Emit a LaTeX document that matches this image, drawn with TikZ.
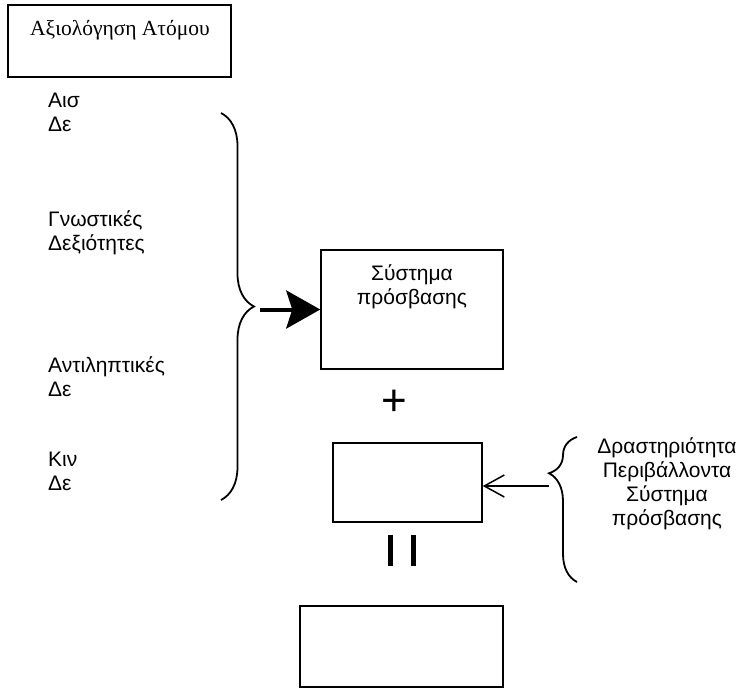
\documentclass[tikz,border=0pt]{standalone}
\usepackage{fontspec}
\setmainfont{Liberation Sans}
\newfontfamily\serifgr{Liberation Serif}
\usetikzlibrary{arrows.meta,decorations.pathreplacing}

\tikzstyle{every node}=[font=\fontsize{21}{24}\selectfont]
\tikzstyle{box}=[draw, line width=1.5pt, inner sep=0pt]
\tikzstyle{leftlabel}=[anchor=west, align=left, inner sep=0pt]
\tikzstyle{bigbrace}=[decorate, decoration={brace, amplitude=33pt}, line width=1.8pt]
\tikzstyle{smallbrace}=[decorate, decoration={brace, amplitude=28pt, aspect=0.75}, line width=1.8pt]
\tikzstyle{bigarrow}=[line width=4pt, -{Stealth[length=34pt, width=38pt, inset=6pt]}]
\tikzstyle{thinarrow}=[line width=1.5pt, -{Straight Barb[length=20pt, width=22pt]}]

\begin{document}
\begin{tikzpicture}[x=1pt, y=-1pt]
            \useasboundingbox (0,0) rectangle (738,688);

            % top box
            \node[box, minimum width=223pt, minimum height=72pt] (eval) at (119.5,41) {};
            \node[font=\serifgr\fontsize{21.5}{24}\selectfont] (evaltext) at (120,30) {Αξιολόγηση Ατόμου};

            % left labels
            \node[leftlabel] (ais) at (48,112.5) {Αισ\\Δε};
            \node[leftlabel] (gnos) at (48,233) {Γνωστικές\\Δεξιότητες};
            \node[leftlabel] (antil) at (48,376.5) {Αντιληπτικές\\Δε};
            \node[leftlabel] (kin) at (48,471.5) {Κιν\\Δε};

            % big brace and arrow
            \draw[bigbrace] (221,113) -- (221,500);
            \node[box, minimum width=182pt, minimum height=119pt] (access) at (412,309.5) {};
            \node[align=center] (accesstext) at (412,287) {Σύστημα\\πρόσβασης};
            \coordinate (bracetip) at (260,309.5);
            \draw[bigarrow] (bracetip) -- (access.west);

            % plus
            \node[font=\fontsize{44}{44}\selectfont, inner sep=0pt] (plus) at (394,403) {+};

            % second box with brace on the right
            \node[box, minimum width=149pt, minimum height=79pt] (activity) at (407.5,482.5) {};
            \draw[smallbrace] (577,582) -- (577,437);
            \node[align=center] (envtext) at (667,484) {Δραστηριότητα\\Περιβάλλοντα\\Σύστημα\\πρόσβασης};
            \coordinate (smalltip) at (549,486);
            \draw[thinarrow] (smalltip) -- (smalltip -| activity.east);

            % equals bars
            \draw[line width=5pt] (390.5,535) -- (390.5,566);
            \draw[line width=5pt] (413.5,535) -- (413.5,566);

            % bottom box
            \node[box, minimum width=203pt, minimum height=81pt] (result) at (401.5,646.5) {};
        \end{tikzpicture}
\end{document}
